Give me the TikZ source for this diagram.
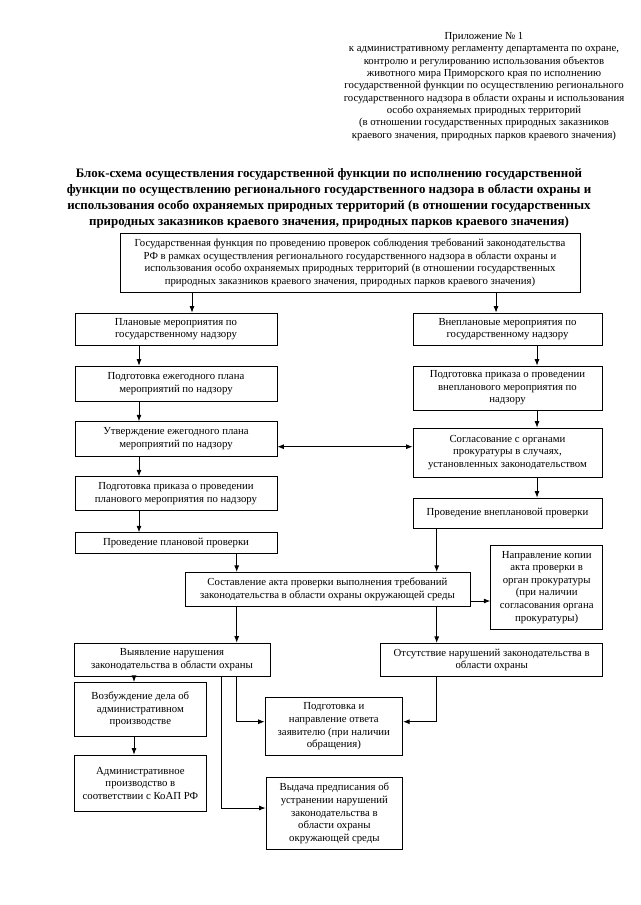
\documentclass[tikz,border=0pt]{standalone}
\usepackage{fontspec}
\setmainfont{Liberation Serif}
\usetikzlibrary{arrows.meta}
\begin{document}
\begin{tikzpicture}[x=1pt,y=-1pt,>={Latex[length=6.5pt,width=5pt]},
blok/.style={draw,line width=0.8pt,align=center,inner sep=1pt,font=\fontsize{10.76}{12.6}\selectfont}]
\useasboundingbox(0,0)rectangle(640,905);
\node[anchor=north,align=center,font=\fontsize{10.76}{12.3}\selectfont](pril) at (484,29){Приложение № 1\\к административному регламенту департамента по охране,\\контролю и регулированию использования объектов\\животного мира Приморского края по исполнению\\государственной функции по осуществлению регионального\\государственного надзора в области охраны и использования\\особо охраняемых природных территорий\\(в отношении государственных природных заказников\\краевого значения, природных парков краевого значения)};
\node[anchor=north,align=center,font=\fontsize{12.9}{16}\selectfont\bfseries](zag) at (329,165){Блок-схема осуществления государственной функции по исполнению государственной\\функции по осуществлению регионального государственного надзора в области охраны и\\использования особо охраняемых природных территорий (в отношении государственных\\природных заказников краевого значения, природных парков краевого значения)};
\node[blok,minimum width=460,minimum height=59.7](fun) at (350,262.85){Государственная функция по проведению проверок соблюдения требований законодательства\\РФ в рамках осуществления регионального государственного надзора в области охраны и\\использования особо охраняемых природных территорий (в отношении государственных\\природных заказников краевого значения, природных парков краевого значения)};
\node[blok,minimum width=202,minimum height=32](pl1) at (176,329){Плановые мероприятия по\\государственному надзору};
\node[blok,minimum width=189,minimum height=32](vn1) at (507.5,329){Внеплановые мероприятия по\\государственному надзору};
\node[blok,minimum width=202,minimum height=35](pl2) at (176,383.5){Подготовка ежегодного плана\\мероприятий по надзору};
\node[blok,minimum width=189,minimum height=44](vn2) at (507.5,388){Подготовка приказа о проведении\\внепланового мероприятия по\\надзору};
\node[blok,minimum width=202,minimum height=34.3](pl3) at (176,438.85){Утверждение ежегодного плана\\мероприятий по надзору};
\node[blok,minimum width=189,minimum height=49](vn3) at (507.5,452.5){Согласование с органами\\прокуратуры в случаях,\\установленных законодательством};
\node[blok,minimum width=202,minimum height=33.3](pl4) at (176,493.35){Подготовка приказа о проведении\\планового мероприятия по надзору};
\node[blok,minimum width=189,minimum height=30](vn4) at (507.5,513){Проведение внеплановой проверки};
\node[blok,minimum width=202,minimum height=20.6](pl5) at (176,543){Проведение плановой проверки};
\node[blok,minimum width=285,minimum height=34.4](akt) at (327.5,589.5){Составление акта проверки выполнения требований\\законодательства в области охраны окружающей среды};
\node[blok,minimum width=112,minimum height=84.3](kop) at (546.7,587.15){Направление копии\\акта проверки в\\орган прокуратуры\\(при наличии\\согласования органа\\прокуратуры)};
\node[blok,minimum width=196,minimum height=33.7](nar) at (172,659.85){Выявление нарушения\\законодательства в области охраны};
\node[blok,minimum width=222,minimum height=33.4](otc) at (491.7,660){Отсутствие нарушений законодательства в\\области охраны};
\node[blok,minimum width=132.7,minimum height=54.4](del) at (140.35,709.5){Возбуждение дела об\\административном\\производстве};
\node[blok,minimum width=137.7,minimum height=58.4](otv) at (333.85,726.5){Подготовка и\\направление ответа\\заявителю (при наличии\\обращения)};
\node[blok,minimum width=132.7,minimum height=56.7](adm) at (140.35,783.35){Административное\\производство в\\соответствии с КоАП РФ};
\node[blok,minimum width=136.7,minimum height=72](pred) at (334.35,813.3){Выдача предписания об\\устранении нарушений\\законодательства в\\области охраны\\окружающей среды};
\coordinate (xf1) at (192,0);
\coordinate (xf2) at (496,0);
\coordinate (xl) at (139,0);
\coordinate (xr) at (537,0);
\coordinate (xa) at (236.7,0);
\coordinate (xb) at (436.7,0);
\coordinate (xc) at (134,0);
\coordinate (xd) at (221.7,0);
\coordinate (ys) at (0,446.7);
\coordinate (yk) at (0,601);
\coordinate (yo) at (0,721.7);
\coordinate (yp) at (0,808);
\begin{scope}[line width=0.8pt]
\draw[->](fun.south-|xf1)--(pl1.north-|xf1);
\draw[->](fun.south-|xf2)--(vn1.north-|xf2);
\draw[->](pl1.south-|xl)--(pl2.north-|xl);
\draw[->](pl2.south-|xl)--(pl3.north-|xl);
\draw[->](pl3.south-|xl)--(pl4.north-|xl);
\draw[->](pl4.south-|xl)--(pl5.north-|xl);
\draw[->](vn1.south-|xr)--(vn2.north-|xr);
\draw[->](vn2.south-|xr)--(vn3.north-|xr);
\draw[->](vn3.south-|xr)--(vn4.north-|xr);
\draw[<->](pl3.east|-ys)--(vn3.west|-ys);
\draw[->](pl5.south-|xa)--(akt.north-|xa);
\draw[->](vn4.south-|xb)--(akt.north-|xb);
\draw[->](akt.east|-yk)--(kop.west|-yk);
\draw[->](akt.south-|xa)--(nar.north-|xa);
\draw[->](akt.south-|xb)--(otc.north-|xb);
\draw[->](nar.south-|xc)--(del.north-|xc);
\draw[->](del.south-|xc)--(adm.north-|xc);
\draw[->](nar.south-|xa)|-(otv.west|-yo);
\draw[->](nar.south-|xd)|-(pred.west|-yp);
\draw[->](otc.south-|xb)|-(otv.east|-yo);
\end{scope}
\end{tikzpicture}
\end{document}
